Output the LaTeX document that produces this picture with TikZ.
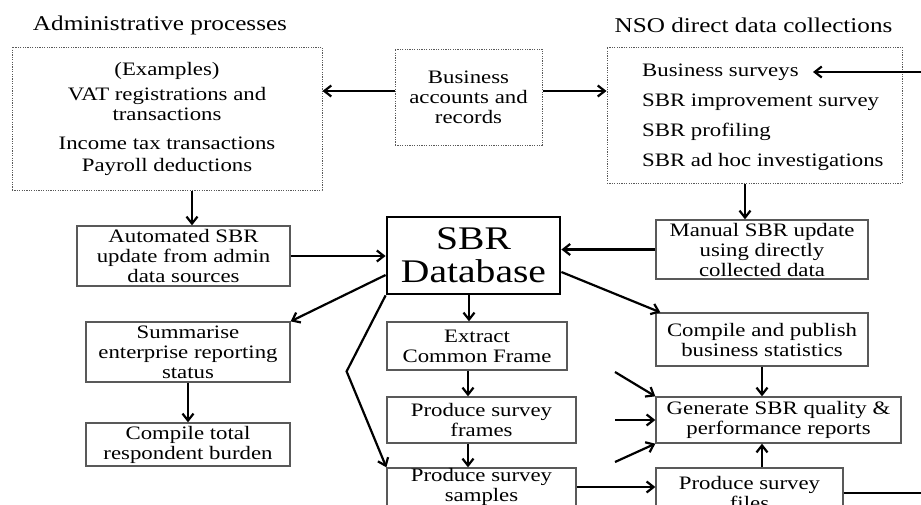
\documentclass[tikz,border=0pt]{standalone}
\usepackage{fontspec}
\setmainfont{Liberation Serif}[FakeStretch=1.2]
\usetikzlibrary{arrows.meta}
\newcommand\bxf{\fontsize{19}{20}\selectfont}
\newcommand\ttlf{\fontsize{21}{24}\selectfont}
\newcommand\dbf{\fontsize{33}{33}\selectfont}
\begin{document}
\begin{tikzpicture}[x=1pt,y=-1pt,
 box/.style={draw=black!65, line width=1.3pt, inner sep=0pt, align=center, font=\bxf},
 dbox/.style={draw=black!65, line width=1pt, dash pattern=on 1.2pt off 1.2pt, inner sep=0pt, align=center, font=\bxf},
 txt/.style={inner sep=0pt, align=center, font=\bxf},
 arr/.style={line width=2.2pt, -{Straight Barb[length=7pt,width=11pt]}},
 ln/.style={line width=2.2pt}]
\clip (0,0) rectangle (921,504);
\fill[white] (0,0) rectangle (921,504);
% titles
\node[txt,font=\ttlf] (t1) at (160,25) {Administrative processes};
\node[txt,font=\ttlf] (t2) at (753.5,25) {NSO direct data collections};
% top boxes
\node[dbox,minimum width=310pt,minimum height=143pt] (adm) at (167,118.5)
 {(Examples)\\[5pt] VAT registrations and\\ transactions\\[9pt] Income tax transactions\\[2pt] Payroll deductions};
\node[dbox,minimum width=147pt,minimum height=96pt] (bar) at (468.5,97) {Business\\ accounts and\\ records};
\node[dbox,minimum width=295pt,minimum height=136pt] (nso) at (754.5,115) {};
\node[txt,anchor=west,align=left] (nsot) at (642,117)
 {Business surveys\\[10pt] SBR improvement survey\\[10pt] SBR profiling\\[10pt] SBR ad hoc investigations};
% middle
\node[box,minimum width=213pt,minimum height=60pt] (aut) at (183.5,256) {Automated SBR\\ update from admin\\ data sources};
\node[draw=black, line width=2.8pt, minimum width=173pt, minimum height=77pt, inner sep=0pt, align=center, font=\dbf] (sbr) at (473.5,255.5) {SBR\\ Database};
\node[box,minimum width=212pt,minimum height=59pt] (man) at (762,249.5) {Manual SBR update\\ using directly\\ collected data};
% lower left
\node[box,minimum width=204pt,minimum height=60pt] (sum) at (188,352) {Summarise\\ enterprise reporting\\ status};
\node[box,minimum width=204pt,minimum height=43pt] (tot) at (188,444.5) {Compile total\\ respondent burden};
% centre column
\node[box,minimum width=180pt,minimum height=48pt] (ext) at (477,346) {Extract\\ Common Frame};
\node[box,minimum width=189pt,minimum height=46pt] (frm) at (481.5,420) {Produce survey\\ frames};
\node[box,minimum width=189pt,minimum height=38pt] (smp) at (481.5,487) {Produce survey\\ samples};
% right column
\node[box,minimum width=212pt,minimum height=53pt] (pub) at (762,339.5) {Compile and publish\\ business statistics};
\node[box,minimum width=245pt,minimum height=46pt] (gen) at (778.5,420) {Generate SBR quality \&\\ performance reports};
\node[box,minimum width=187pt,minimum height=49pt] (fil) at (749.5,492.5) {Produce survey\\ files};
% helper coordinates
\coordinate (b1) at ([yshift=6pt]bar.west);
\coordinate (b2) at ([yshift=6pt]bar.east);
\coordinate (p1) at ([xshift=8.5pt]aut.north);
\coordinate (p2) at ([xshift=-17pt]man.north);
\coordinate (s1) at ([yshift=-19.5pt]sbr.west);
\coordinate (s2) at ([yshift=-16.5pt]sbr.east);
\coordinate (p3) at ([xshift=-8pt]ext.north);
\coordinate (p4) at ([xshift=-13.5pt]frm.north);
\coordinate (p5) at ([xshift=-13.5pt]smp.north);
\coordinate (bsR) at (921,72);
\coordinate (bsL) at (813,72);
\coordinate (g1) at (615,372);
\coordinate (g2) at (615,420);
\coordinate (g3) at (615,462);
\coordinate (fo) at (921,493);
% connectors
\draw[arr] (b1) -- (b1 -| adm.east);
\draw[arr] (b2) -- (b2 -| nso.west);
\draw[arr] (bsR) -- (bsL);
\draw[arr] (p1 |- adm.south) -- (p1);
\draw[arr] (p2 |- nso.south) -- (p2);
\draw[arr] (aut.east) -- (aut.east -| sbr.west);
\draw[arr] (man.west) -- (man.west -| sbr.east);
\draw[arr] (s1) -- (sum.north east);
\draw[arr] (s2) -- ([xshift=5pt]pub.north west);
\draw[arr] (p3 |- sbr.south) -- (p3);
\draw[arr] (p4 |- ext.south) -- (p4);
\draw[arr] (p5 |- frm.south) -- (p5);
\draw[arr] (sbr.south west) -- ++(-39,76) -- (smp.north west);
\draw[arr] (sum.south) -- (tot.north);
\draw[arr] (pub.south) -- (pub.south |- gen.north);
\draw[arr] (pub.south |- fil.north) -- (pub.south |- gen.south);
\draw[arr] (smp.east) -- (smp.east -| fil.west);
\draw[ln] (fil.east |- fo) -- (fo);
\draw[arr] (g1) -- (gen.north west);
\draw[arr] (g2) -- (g2 -| gen.west);
\draw[arr] (g3) -- (gen.south west);
\end{tikzpicture}
\end{document}
